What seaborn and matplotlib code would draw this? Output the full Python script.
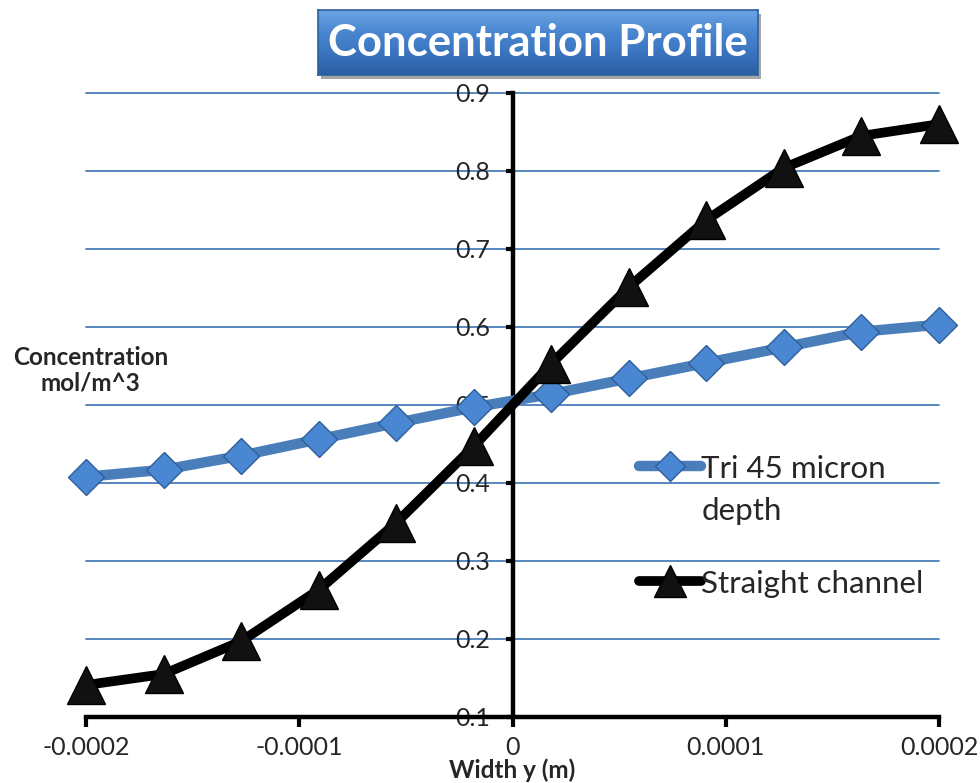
import numpy as np
import pandas as pd
import matplotlib
matplotlib.use("Agg")
import matplotlib.pyplot as plt
import seaborn as sns

# ---- data ----
width_y = [-0.0002, -0.0001636, -0.0001273, -0.0000909, -0.0000545, -0.0000182,
           0.0000182, 0.0000545, 0.0000909, 0.0001273, 0.0001636, 0.0002]
tri_45 = [0.408, 0.417, 0.435, 0.456, 0.477, 0.497,
          0.514, 0.534, 0.554, 0.574, 0.594, 0.603]
straight = [0.141, 0.155, 0.197, 0.263, 0.349, 0.447,
            0.553, 0.651, 0.737, 0.804, 0.845, 0.860]
series_names = ["Tri 45 micron\ndepth", "Straight channel"]
x_ticks = [-0.0002, -0.0001, 0.0, 0.0001, 0.0002]
x_tick_labels = ["-0.0002", "-0.0001", "0", "0.0001", "0.0002"]
y_ticks = [0.1, 0.2, 0.3, 0.4, 0.5, 0.6, 0.7, 0.8, 0.9]
y_tick_labels = ["0.1", "0.2", "0.3", "0.4", "0.5", "0.6", "0.7", "0.8", "0.9"]
title = "Concentration Profile"
x_label = "Width y (m)"
y_label = "Concentration\nmol/m^3"

sns.set_style("white")
plt.rcParams["font.family"] = ["Lato", "DejaVu Sans"]

fig = plt.figure(figsize=(9.8, 7.83), dpi=100)
ax = fig.add_axes([86 / 980, 1 - 717 / 783, (939 - 86) / 980, (717 - 93) / 783])

blue = "#4A7EBB"
sns.lineplot(x=width_y, y=tri_45, ax=ax, color=blue, lw=7.5, marker="D",
             markersize=18.5, markerfacecolor="#4A87D2", markeredgecolor="#2F5E9A",
             markeredgewidth=1.0, label=series_names[0], clip_on=False, zorder=4,
             solid_capstyle="round")
sns.lineplot(x=width_y, y=straight, ax=ax, color="black", lw=7, marker="^",
             markersize=28, markerfacecolor="#111111", markeredgecolor="#000000",
             markeredgewidth=1.0, label=series_names[1], clip_on=False, zorder=5,
             solid_capstyle="round")

ax.set_xlim(-0.0002, 0.0002)
ax.set_ylim(0.1, 0.9)

# spines
for s in ["top", "right"]:
    ax.spines[s].set_visible(False)
ax.spines["left"].set_position(("data", 0))
ax.spines["left"].set_linewidth(3.2)
ax.spines["bottom"].set_linewidth(3.2)
ax.spines["left"].set_color("black")
ax.spines["bottom"].set_color("black")
ax.spines["left"].set_zorder(3)

ax.set_xticks(x_ticks)
ax.set_xticklabels(x_tick_labels)
ax.set_yticks(y_ticks)
ax.set_yticklabels(y_tick_labels)
ax.tick_params(axis="x", direction="out", length=7, width=3, labelsize=18, pad=7,
               color="black", bottom=True)
ax.tick_params(axis="y", direction="out", length=5, width=3, labelsize=18, pad=11,
               color="black", left=True)

ax.yaxis.grid(True, color=blue, lw=1.3)
ax.xaxis.grid(False)
ax.set_axisbelow(True)
for gl in ax.get_ygridlines():
    gl.set_clip_on(False)

ax.set_xlabel(x_label, fontsize=17.5, fontweight="bold", va="center")
ax.xaxis.set_label_coords(0.5, -0.086)
ax.set_ylabel(y_label, fontsize=17.5, fontweight="bold", rotation=0,
              ha="center", va="center", linespacing=1.15)
ax.yaxis.set_label_coords(0.005, 0.556)

leg = ax.legend(loc="upper left", bbox_to_anchor=(0.648, 0.42), frameon=False,
                fontsize=22.5, handlelength=2.0, handletextpad=0.0,
                borderpad=0, borderaxespad=0, labelspacing=1.45, markerscale=0.8)
for t in leg.get_texts():
    t.set_linespacing(1.6)
for col in leg._legend_handle_box.get_children():
    for hp in col.get_children():
        hp.align = "top"

# title box with gradient
tb = fig.add_axes([318 / 980, 1 - 75 / 783, (758 - 318) / 980, 65 / 783])
sh = fig.add_axes([321 / 980, 1 - 79 / 783, (758 - 318) / 980, 65 / 783])
sh.set_facecolor("#a5a5a5")
sh.set_xticks([]); sh.set_yticks([])
for s in sh.spines.values():
    s.set_visible(False)
sh.set_zorder(1)
tb.set_zorder(2)
grad = np.linspace(0, 1, 100).reshape(-1, 1)
cmap = matplotlib.colors.LinearSegmentedColormap.from_list(
    "tb", ["#6BA4E4", "#4A87D0", "#3A74BE", "#2C5FA3"])
tb.imshow(grad, aspect="auto", cmap=cmap, extent=[0, 1, 0, 1], origin="upper")
tb.set_xticks([]); tb.set_yticks([])
for s in tb.spines.values():
    s.set_color("#2D5F9E")
    s.set_linewidth(1.2)
tb.text(0.5, 0.5, title, color="white", fontsize=31.5, fontweight="bold",
        ha="center", va="center", transform=tb.transAxes)

fig.savefig("out.png", dpi=100)
